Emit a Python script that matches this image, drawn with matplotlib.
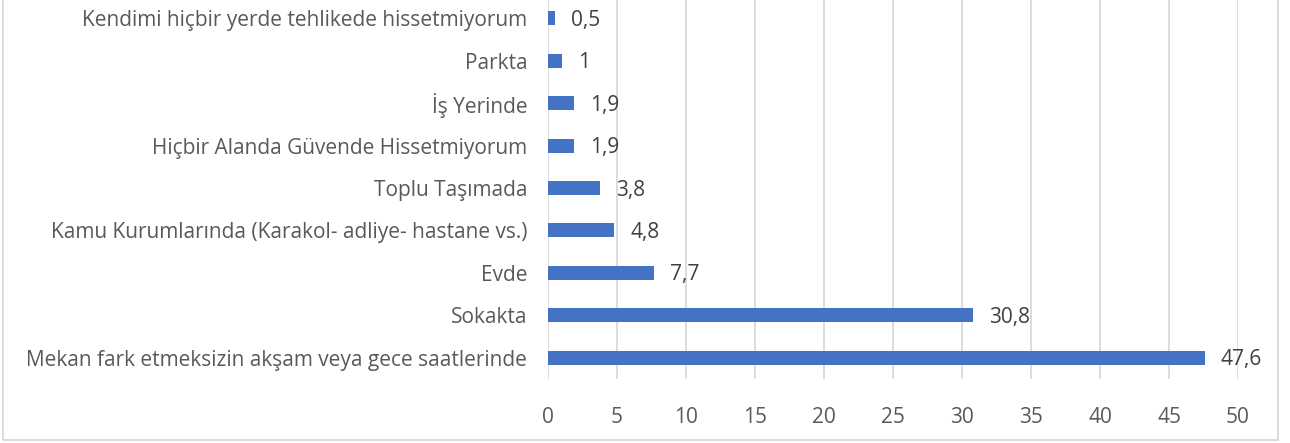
import matplotlib.pyplot as plt
from matplotlib.patches import Rectangle

# data (bottom to top)
categories = ['Mekan fark etmeksizin akşam veya gece saatlerinde',
              'Sokakta',
              'Evde',
              'Kamu Kurumlarında (Karakol- adliye- hastane vs.)',
              'Toplu Taşımada',
              'Hiçbir Alanda Güvende Hissetmiyorum',
              'İş Yerinde',
              'Parkta',
              'Kendimi hiçbir yerde tehlikede hissetmiyorum']
values = [47.6, 30.8, 7.7, 4.8, 3.8, 1.9, 1.9, 1, 0.5]
xticks = [0, 5, 10, 15, 20, 25, 30, 35, 40, 45, 50]

plt.rcParams['font.family'] = ['Open Sans', 'DejaVu Sans']
txt_color = '#595959'

fig = plt.figure(figsize=(12.9, 4.43), dpi=100)
ax = fig.add_axes([548/1290, 64/443, 690/1290, 382/443])

y = range(len(categories))
ax.barh(y, values, height=0.33, color='#4472C4', zorder=3)

for i, v in enumerate(values):
    lbl = ('%g' % v).replace('.', ',')
    ax.annotate(lbl, (v, i), xytext=(11.5, -1.5), textcoords='offset points',
                va='center', ha='left', fontsize=15, color='#404040')

ax.set_xlim(0, 50)
ax.set_ylim(-0.5, len(categories) - 0.5)
ax.set_xticks(xticks)
ax.set_xticklabels([str(t) for t in xticks], fontsize=15, color=txt_color)
ax.set_yticks(list(y))
ax.set_yticklabels(categories, fontsize=15, color=txt_color)
ax.tick_params(axis='both', length=0)
ax.tick_params(axis='x', pad=20)
ax.tick_params(axis='y', pad=15)
ax.xaxis.grid(True, color='#d9d9d9', linewidth=1.3, zorder=0)
for s in ax.spines.values():
    s.set_visible(False)

# outer chart border
fig.patches.append(Rectangle((3/1290, 3/443), 1275/1290, 1.2, transform=fig.transFigure,
                             fill=False, edgecolor='#d9d9d9', linewidth=1.3))

fig.savefig('out.png', dpi=100)
